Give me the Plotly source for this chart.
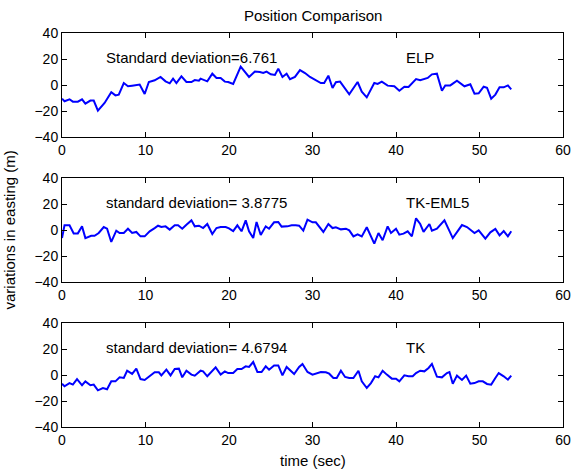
import plotly.graph_objects as go
from plotly.subplots import make_subplots

# ELP easting variations (time in s, metres)
elp_t = [0, 0.3, 0.9, 1.3, 1.9, 2.4, 2.8, 3.4, 3.8, 4.3, 5.1, 5.9, 6.4, 6.8, 7.4, 7.9, 8.4, 9.3, 9.9,
         10.4, 11.1, 11.8, 12.4, 12.9, 13.3, 13.7, 14.3, 14.9, 15.5, 15.9, 16.4, 16.6, 17.4, 18.0, 18.5,
         19.0, 19.5, 19.9, 20.5, 21.4, 22.4, 23.1, 23.7, 24.1, 24.5, 25.0, 25.5, 25.9, 26.4, 26.9, 27.3,
         27.9, 28.5, 29.1, 29.7, 30.2, 31.0, 31.4, 31.9, 32.4, 32.8, 33.3, 34.4, 35.4, 35.9, 36.5, 37.4,
         37.8, 38.3, 39.0, 39.8, 40.4, 41.0, 41.5, 42.4, 42.9, 43.8, 44.3, 44.9, 45.5, 45.9, 46.5, 47.3,
         48.2, 48.9, 49.4, 49.9, 50.5, 50.9, 51.4, 51.9, 52.4, 52.9, 53.4, 53.8]
elp_v = [-10.5, -12.5, -11, -12.8, -12.8, -11, -14.4, -12, -12, -19.7, -13.8, -5.6, -8, -7.4, 1.5, -1, -0.5, 0.3, -6.9,
         2.3, 3.6, 6.2, 2.8, 1.3, 4.9, 1.5, 6.7, 2.3, 2.3, 3.8, 3.3, 4.9, 2.8, 8.7, 5.4,
         5.4, 2.6, 2.3, 0.8, 14.1, 6.2, 10.3, 10, 9.2, 10.3, 8.2, 7.7, 12.6, 6.2, 8.7, 4.4,
         6.2, 11.5, 9.2, 6.2, 4.6, 1.5, 1.5, 7.2, -2.3, 2.1, 2.6, -7.2, 2.3, -5.1, -9.5, 1.5,
         0.8, 2.6, -0.5, -1, -4.4, -1.3, -1.5, 4.6, 3.6, 5.4, 8.2, 8.7, -4.4, -0.3, -0.3, 3.3,
         -1, 0.5, -6.7, -6.4, -1.3, -2.1, -10.5, -7.4, -1.8, -1.8, -0.3, -3.3]

# TK-EML5 easting variations
eml_t = [0, 0.3, 0.9, 1.4, 1.9, 2.4, 2.8, 3.5, 3.9, 4.4, 5.0, 5.4, 5.9, 6.5, 6.9, 7.4, 7.9, 8.4, 8.9, 9.4, 9.9,
         10.5, 11.1, 11.5, 11.9, 12.4, 12.9, 13.5, 13.9, 14.4, 14.9, 15.5, 15.9, 16.4, 16.9, 17.4, 18.0, 18.5,
         19.0, 19.6, 20.0, 20.5, 21.0, 21.5, 22.0, 22.4, 22.9, 23.3, 23.8, 24.4, 24.8, 25.4, 25.9, 26.3, 27.0,
         27.5, 28.0, 28.4, 28.9, 29.4, 30.0, 30.4, 31.3, 31.9, 32.4, 32.8, 33.4, 34.0, 34.4, 34.9, 35.4, 35.9,
         36.5, 37.4, 37.9, 38.4, 39.0, 39.4, 40.0, 40.4, 40.9, 41.4, 41.9, 42.4, 42.9, 43.3, 44.0, 44.3, 44.9,
         45.8, 46.8, 47.9, 48.5, 49.4, 49.9, 50.7, 51.3, 51.9, 52.4, 52.9, 53.4, 53.8]
eml_v = [-6.2, 3.6, 3.6, -2.6, -2.6, 2.8, -6.2, -4.4, -4.4, -2.3, 2.3, 1, -9.2, -0.5, -2.3, -2.3, 1, -2.3, -1.5, -4.9, -4.9,
         -1, 1.5, 3.3, 2.3, 2.8, 0.3, 3.6, 3.6, 1, 4.1, 7.4, 2.8, 3.3, 1.5, 4.6, -3.1, 1.5,
         2.3, 2.3, 1.3, -0.8, 3.6, -1, 7.4, -1, -6.2, 6.2, -3.8, 2.8, 1, 5.9, 6.2, 2.6, 2.8,
         3.6, 3.6, 3.3, -0.5, 7.9, 5.9, 5.9, -1.5, 4.6, 1.5, 2.1, 0.5, 1, -0.3, -4.9, -3.3, -4.9,
         2.1, -10.5, -2.3, -7.9, 2.8, -2.3, 1, -3.6, -2.8, -1, -4.9, 9, 4.6, -1.5, 4.6, -0.5, 1,
         7.4, -6.2, 3.8, 2.3, -2.3, -0.3, -6.7, -1.8, 0.8, -4.1, -0.8, -4.9, -1]

# TK easting variations
tk_t = [0, 0.3, 0.9, 1.3, 1.8, 2.4, 2.8, 3.4, 3.8, 4.3, 4.9, 5.4, 5.9, 6.4, 6.9, 7.4, 7.8, 8.4, 8.9, 9.4, 9.9,
        10.5, 11.1, 11.6, 11.9, 12.5, 13.0, 13.5, 14.0, 14.4, 14.9, 15.5, 15.9, 16.6, 16.9, 17.4, 17.9, 18.4,
        19.0, 19.5, 19.9, 20.5, 21.0, 21.5, 22.0, 22.4, 22.9, 23.4, 23.9, 24.4, 24.8, 25.4, 25.9, 26.4, 26.9,
        27.3, 27.8, 28.4, 28.8, 29.4, 30.0, 31.0, 31.6, 32.0, 32.5, 32.9, 33.4, 33.9, 34.4, 34.9, 35.5, 35.9,
        36.5, 37.0, 37.5, 37.9, 38.4, 38.9, 39.5, 40.0, 40.4, 41.0, 41.5, 42.0, 42.4, 42.9, 43.4, 43.9, 44.3,
        44.9, 45.5, 46.1, 46.4, 46.8, 47.3, 47.9, 48.4, 48.9, 49.4, 49.9, 50.4, 50.9, 51.4, 51.9, 52.3, 52.9,
        53.4, 53.8]
tk_v = [-6.7, -8.7, -6.2, -7.4, -3.1, -7.9, -4.9, -7.9, -7.4, -11.8, -10, -11, -4.9, -4.9, -1.8, -2.3, 3.3, 0.8, 4.9, -3.1, -3.8,
        -1, 2.1, 2.1, -0.3, 4.1, -0.3, 4.6, 4.9, -1.8, 3.3, 0.3, -0.5, 3.3, 2.8, -1, 2.8, 5.9,
        0.3, 2.8, 1.5, 1.5, 4.6, 4.6, 6.7, 6.2, 10, 2.3, 2.3, 6.7, 4.1, 7.4, 7.4, -0.3, 6.2,
        4.1, 0.8, 6.2, 8.5, 2.3, 0.3, 2.3, 2.1, 1, -2.3, -2.3, 3.3, -1.5, -2.3, -2.3, 3.3, -4.9,
        -10, -6.2, -1, -1.8, 3.3, 0.3, -2.8, -2.8, -4.9, -0.3, -1, -1, 1.5, 3.3, 2.8, 5.4, 8.5,
        -1.3, -1.8, 1.5, 2.3, -6.7, -0.5, -3.8, -0.5, -6.7, -6.2, -4.9, -4.9, -6.9, -7.4, -2.3, 1.5, -1,
        -3.6, -0.5]

series = [
    (elp_t, elp_v, "Standard deviation=6.761", "ELP"),
    (eml_t, eml_v, "standard deviation= 3.8775", "TK-EML5"),
    (tk_t, tk_v, "standard deviation= 4.6794", "TK"),
]

x_ticks = [0, 10, 20, 30, 40, 50, 60]
y_ticks = [-40, -20, 0, 20, 40]

FONT = "Arial"
W, H = 579, 470
M_L, M_R, M_T, M_B = 62, 8, 33, 43
plot_h = H - M_T - M_B
# panel extents in pixels from the top of the plot area
panels_px = [(0, 104), (145, 249), (290, 394)]

fig = make_subplots(rows=3, cols=1)

for i, (t, v, sd_text, name) in enumerate(series, start=1):
    fig.add_trace(
        go.Scatter(x=t, y=v, mode="lines", line=dict(color="#0000ff", width=2),
                   showlegend=False, hoverinfo="skip"),
        row=i, col=1,
    )
    top, bot = panels_px[i - 1]
    dom = [1 - bot / plot_h, 1 - top / plot_h]
    xa = "xaxis" if i == 1 else f"xaxis{i}"
    ya = "yaxis" if i == 1 else f"yaxis{i}"
    axis_common = dict(showline=True, linecolor="black", linewidth=1, mirror="ticks",
                       ticks="inside", ticklen=5, tickcolor="black", showgrid=False,
                       zeroline=False, tickfont=dict(family=FONT, size=14, color="black"))
    fig.layout[xa].update(range=[0, 60], tickvals=x_ticks, domain=[0, 1], **axis_common)
    fig.layout[ya].update(range=[-40, 40], tickvals=y_ticks, domain=dom, **axis_common)
    xref = "x" if i == 1 else f"x{i}"
    yref = "y" if i == 1 else f"y{i}"
    fig.add_annotation(x=5, y=21, xref=xref, yref=yref, text=sd_text, showarrow=False,
                       xanchor="left", yanchor="middle",
                       font=dict(family=FONT, size=15, color="black"))
    fig.add_annotation(x=41, y=21, xref=xref, yref=yref, text=name, showarrow=False,
                       xanchor="left", yanchor="middle",
                       font=dict(family=FONT, size=15, color="black"))

fig.add_annotation(x=0.5, y=1, xref="paper", yref="paper", yshift=7, text="Position Comparison",
                   showarrow=False, xanchor="center", yanchor="bottom",
                   font=dict(family=FONT, size=15, color="black"))
fig.add_annotation(x=0.5, y=0, xref="paper", yref="paper", yshift=-23, text="time (sec)",
                   showarrow=False, xanchor="center", yanchor="top",
                   font=dict(family=FONT, size=15, color="black"))
fig.add_annotation(x=0, y=0.5, xref="paper", yref="paper", xshift=-43, text="variations in easting (m)",
                   showarrow=False, xanchor="right", yanchor="middle", textangle=-90,
                   font=dict(family=FONT, size=15, color="black"))

fig.update_layout(
    width=W, height=H,
    margin=dict(l=M_L, r=M_R, t=M_T, b=M_B),
    paper_bgcolor="white", plot_bgcolor="white",
)

fig.write_html("out.html")
